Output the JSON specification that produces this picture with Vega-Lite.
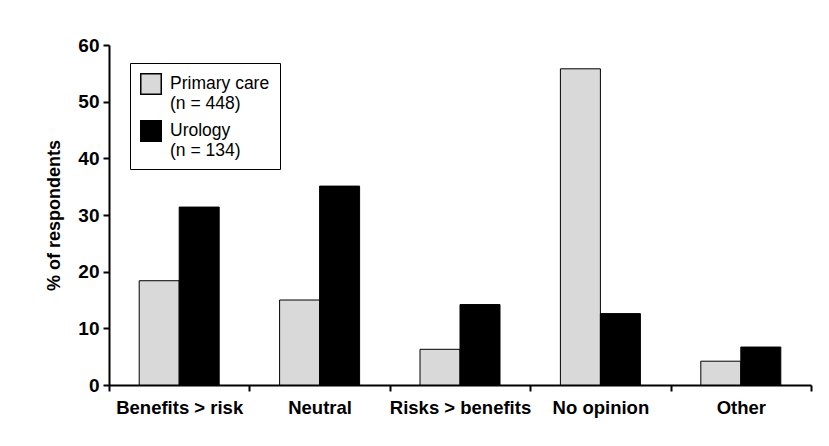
{
  "$schema": "https://vega.github.io/schema/vega-lite/v6.json",
  "autosize": "none",
  "width": 702,
  "height": 340,
  "padding": {"left": 109, "top": 45, "right": 18, "bottom": 61},
  "background": "white",
  "config": {
    "font": "Liberation Sans",
    "view": {"stroke": null}
  },
  "data": {
    "values": [
      {"category": "Benefits > risk", "group": "Primary care", "pct": 18.4},
      {"category": "Benefits > risk", "group": "Urology", "pct": 31.4},
      {"category": "Neutral", "group": "Primary care", "pct": 15.0},
      {"category": "Neutral", "group": "Urology", "pct": 35.1},
      {"category": "Risks > benefits", "group": "Primary care", "pct": 6.3},
      {"category": "Risks > benefits", "group": "Urology", "pct": 14.2},
      {"category": "No opinion", "group": "Primary care", "pct": 55.8},
      {"category": "No opinion", "group": "Urology", "pct": 12.6},
      {"category": "Other", "group": "Primary care", "pct": 4.2},
      {"category": "Other", "group": "Urology", "pct": 6.7}
    ]
  },
  "mark": {"type": "bar", "stroke": "black", "strokeWidth": 1},
  "encoding": {
    "x": {
      "field": "category",
      "type": "nominal",
      "sort": ["Benefits > risk", "Neutral", "Risks > benefits", "No opinion", "Other"],
      "scale": {"paddingInner": 0, "paddingOuter": 0},
      "axis": {
        "title": null,
        "labelAngle": 0,
        "tickBand": "extent",
        "domainColor": "black",
        "domainWidth": 2,
        "tickColor": "black",
        "tickWidth": 2,
        "tickSize": 6,
        "labelPadding": 7,
        "labelFontSize": 18.5,
        "labelFontWeight": "bold",
        "labelColor": "black"
      }
    },
    "xOffset": {
      "field": "group",
      "type": "nominal",
      "scale": {"paddingInner": 0, "paddingOuter": 0.755}
    },
    "y": {
      "field": "pct",
      "type": "quantitative",
      "scale": {"domain": [0, 60], "nice": false},
      "axis": {
        "title": "% of respondents",
        "titleFontSize": 18,
        "titleFontWeight": "bold",
        "titleColor": "black",
        "titlePadding": 14,
        "values": [0, 10, 20, 30, 40, 50, 60],
        "grid": false,
        "domainColor": "black",
        "domainWidth": 2,
        "tickColor": "black",
        "tickWidth": 2,
        "tickSize": 6,
        "labelPadding": 4,
        "labelFontSize": 19,
        "labelFontWeight": "bold",
        "labelColor": "black"
      }
    },
    "fill": {
      "field": "group",
      "type": "nominal",
      "scale": {"domain": ["Primary care", "Urology"], "range": ["#d9d9d9", "#000000"]},
      "legend": {
        "title": null,
        "orient": "none",
        "legendX": 21,
        "legendY": 18,
        "strokeColor": "black",
        "padding": 10,
        "symbolType": "square",
        "symbolSize": 420,
        "symbolStrokeColor": "black",
        "symbolStrokeWidth": 1.5,
        "symbolOffset": 0,
        "labelOffset": 8,
        "labelFontSize": 17.5,
        "labelLineHeight": 21,
        "labelColor": "black",
        "labelLimit": 200,
        "rowPadding": 5,
        "labelExpr": "datum.label == 'Primary care' ? ['Primary care', '(n = 448)'] : ['Urology', '(n = 134)']"
      }
    }
  }
}
